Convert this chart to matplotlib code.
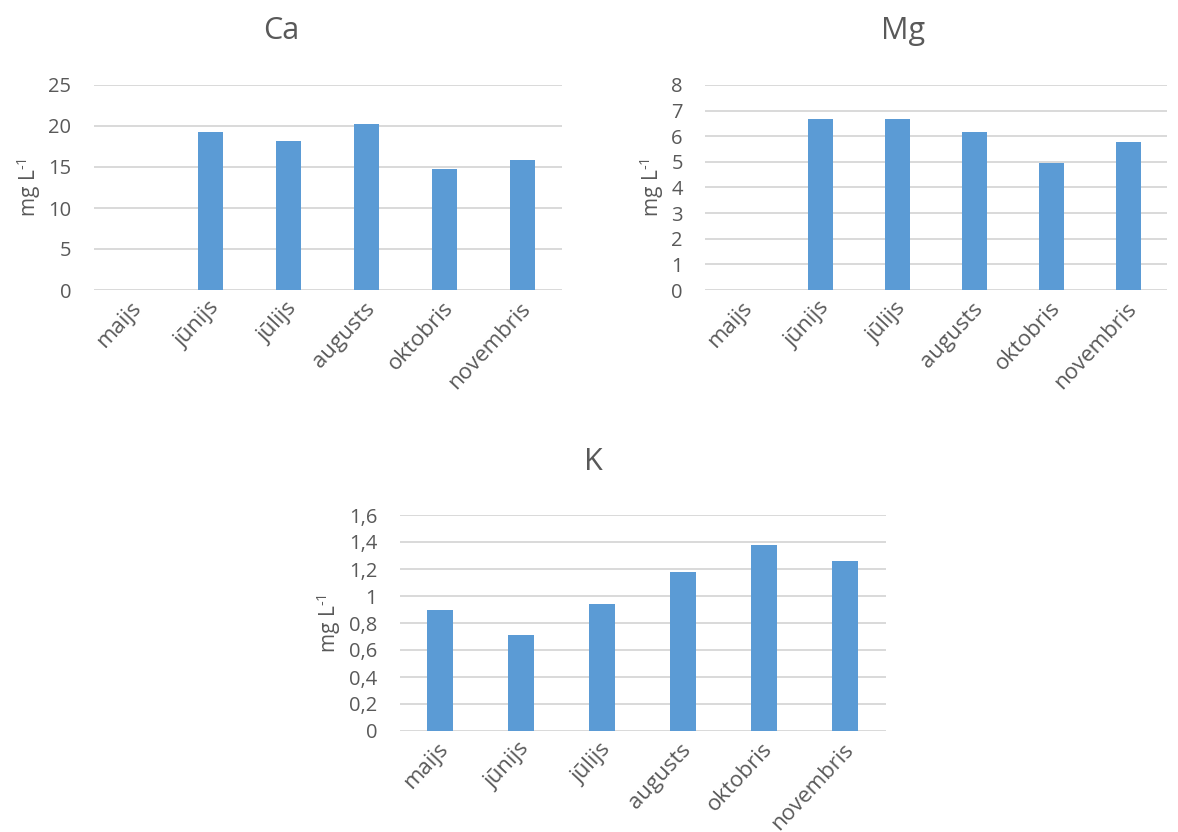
import numpy as np
import matplotlib
matplotlib.use("Agg")
import matplotlib.pyplot as plt
import matplotlib.transforms as mtransforms
from matplotlib.ticker import FuncFormatter, MultipleLocator

plt.rcParams['font.family'] = ['Open Sans', 'DejaVu Sans']
plt.rcParams['mathtext.fontset'] = 'custom'
plt.rcParams['mathtext.rm'] = 'Open Sans'
plt.rcParams['mathtext.it'] = 'Open Sans'
plt.rcParams['mathtext.default'] = 'regular'

months = ["maijs", "jūnijs", "jūlijs", "augusts", "oktobris", "novembris"]
ca_values = [np.nan, 19.3, 18.2, 20.2, 14.8, 15.8]
mg_values = [np.nan, 6.67, 6.68, 6.18, 4.94, 5.76]
k_values = [0.90, 0.71, 0.94, 1.18, 1.38, 1.26]

BAR = "#5B9BD5"
TXT = "#595959"
GRID = "#D9D9D9"

W, H = 1178, 832
fig = plt.figure(figsize=(W / 100, H / 100), dpi=100)


def px_axes(left, top, right, bottom):
    return fig.add_axes([left / W, 1 - bottom / H, (right - left) / W, (bottom - top) / H])


def comma_fmt(v, pos):
    s = f"{v:.1f}".rstrip("0").rstrip(".")
    return s.replace(".", ",")


def style(ax, vals, ymax, step, fmt=None):
    x = np.arange(len(months))
    ax.bar(x, vals, width=0.32, color=BAR, zorder=3)
    ax.set_xlim(-0.5, len(months) - 0.5)
    ax.set_ylim(0, ymax)
    ax.yaxis.set_major_locator(MultipleLocator(step))
    if fmt:
        ax.yaxis.set_major_formatter(FuncFormatter(fmt))
    ax.grid(axis='y', color=GRID, lw=1.4, zorder=0)
    ax.set_axisbelow(True)
    for s in ax.spines.values():
        s.set_visible(False)
    ax.tick_params(axis='both', length=0, labelsize=14.5, colors=TXT)
    ax.tick_params(axis='y', pad=16)
    ax.set_xticks(x)
    ax.set_xticklabels(months, rotation=47, ha='right', va='center',
                       rotation_mode='anchor', fontsize=16)
    ax.tick_params(axis='x', pad=11)
    off = mtransforms.ScaledTranslation(5 / 100, 0, fig.dpi_scale_trans)
    for lab in ax.get_xticklabels():
        lab.set_transform(lab.get_transform() + off)
    ax.set_ylabel(r'mg L$^{\text{-1}}$', color=TXT, fontsize=15, labelpad=4)


ax1 = px_axes(93.5, 85, 561.5, 290)
style(ax1, ca_values, 25, 5)
ax2 = px_axes(705, 85, 1167, 290)
style(ax2, mg_values, 8, 1)
ax3 = px_axes(399.5, 515, 885.5, 731)
style(ax3, k_values, 1.6, 0.2, comma_fmt)

fig.text(281 / W, 1 - 31 / H, "Ca", ha='center', va='center', fontsize=22, color=TXT)
fig.text(903 / W, 1 - 31 / H, "Mg", ha='center', va='center', fontsize=22, color=TXT)
fig.text(593 / W, 1 - 462 / H, "K", ha='center', va='center', fontsize=22, color=TXT)

fig.savefig("out.png", dpi=100, facecolor='white')
